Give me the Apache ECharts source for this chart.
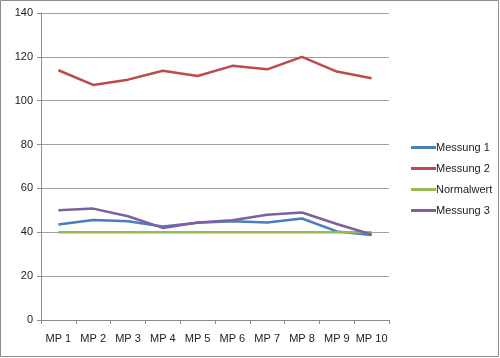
<!DOCTYPE html>
<html><head><meta charset="utf-8">
<script src="https://cdn.jsdelivr.net/npm/echarts@6/dist/echarts.min.js"></script>
<style>html,body{margin:0;padding:0;background:#fff}#c{width:500px;height:358px}</style>
</head><body><div id="c"></div>
<script>
const categories = ['MP 1','MP 2','MP 3','MP 4','MP 5','MP 6','MP 7','MP 8','MP 9','MP 10'];
const messung1 = [43.5, 45.6, 45.0, 42.6, 44.4, 45.0, 44.5, 46.3, 40.4, 38.8];
const messung2 = [113.9, 107.2, 109.6, 113.7, 111.3, 115.9, 114.3, 120.0, 113.3, 110.2];
const normalwert = [40, 40, 40, 40, 40, 40, 40, 40, 40, 40];
const messung3 = [50.0, 50.8, 47.3, 42.0, 44.5, 45.5, 48.0, 49.0, 43.8, 39.0];
const seriesNames = ['Messung 1','Messung 2','Normalwert','Messung 3'];
const colors = ['#4a7ebb','#be4b48','#98b954','#7d60a0'];
const seriesData = [messung1, messung2, normalwert, messung3];

const font = 'Liberation Sans';
const chart = echarts.init(document.getElementById('c'), null, {renderer:'canvas'});
chart.setOption({
  animation:false,
  backgroundColor:'#fff',
  color: colors,
  textStyle:{fontFamily:font},
  graphic:[{type:'rect', shape:{x:0.5,y:0.5,width:498,height:356}, style:{fill:'none', stroke:'#8c8c8c', lineWidth:1}, silent:true}],
  grid:{left:41, right:111, top:13, bottom:38, containLabel:false},
  legend:{
    orient:'vertical', left:406, top:136,
    icon:'rect', itemWidth:25, itemHeight:3, itemGap:8,
    data: seriesNames,
    textStyle:{fontSize:11, lineHeight:13, color:'#222', fontFamily:font, padding:[0,0,0,-5]},
    padding:[5,5,5,5]
  },
  xAxis:{
    type:'category', data:categories, boundaryGap:true,
    axisLine:{lineStyle:{color:'#8c8c8c', width:1}},
    axisTick:{show:true, inside:false, length:4, lineStyle:{color:'#8c8c8c'}},
    axisLabel:{fontSize:11, color:'#222', margin:13, fontFamily:font, interval:0}
  },
  yAxis:{
    type:'value', min:0, max:140, interval:20,
    axisLine:{show:true, lineStyle:{color:'#8c8c8c', width:1}},
    axisTick:{show:true, length:4, lineStyle:{color:'#8c8c8c'}},
    axisLabel:{fontSize:11, color:'#222', margin:8, fontFamily:font},
    splitLine:{lineStyle:{color:'#a0a0a0', width:1}}
  },
  series: seriesData.map((d,i)=>({
    name: seriesNames[i], type:'line', data:d,
    symbol:'none', showSymbol:false,
    lineStyle:{width:2.5, color:colors[i]},
    itemStyle:{color:colors[i]},
    z: 2
  }))
});
</script></body></html>
